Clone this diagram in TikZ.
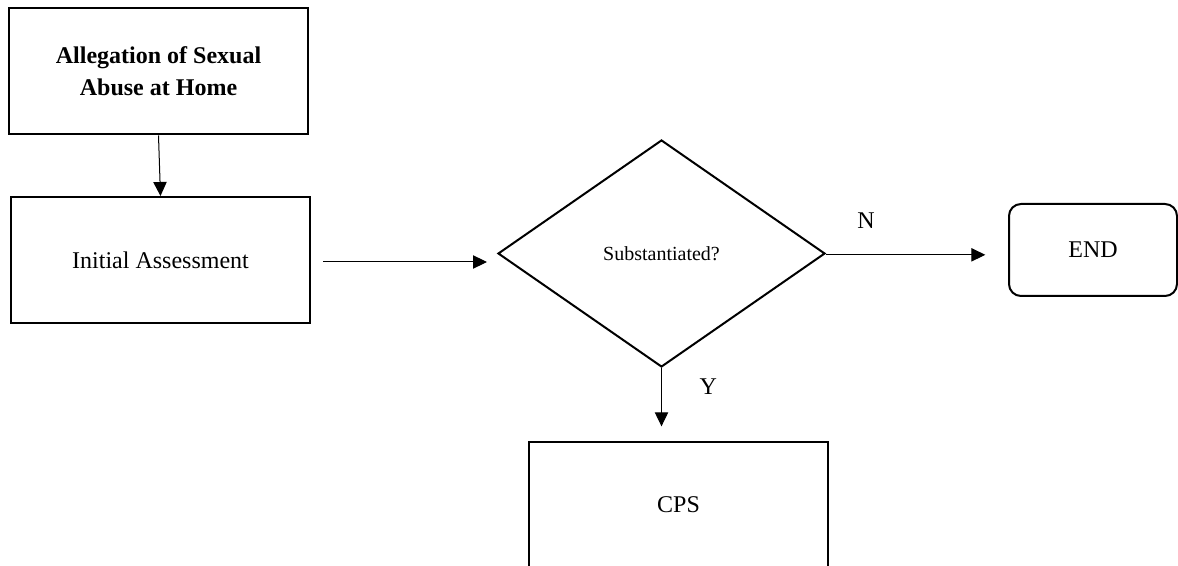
\documentclass[tikz,border=0pt]{standalone}
\usepackage{fontspec}
\setmainfont{Liberation Serif}
\usetikzlibrary{positioning,shapes.geometric,arrows.meta}

\begin{document}
\begin{tikzpicture}[x=0.75pt,y=-0.75pt,
		box/.style={draw, line width=1.5pt, minimum width=\BoxW pt, minimum height=\BoxH pt, align=center, font=\fontsize{18}{24}\selectfont},
		decision/.style={draw, diamond, line width=1.5pt, inner sep=0pt, minimum width=\DiaW pt, minimum height=\DiaH pt, font=\fontsize{15}{18}\selectfont},
		endbox/.style={draw, rounded corners=9pt, line width=1.5pt, minimum width=\EndW pt, minimum height=\EndH pt, font=\fontsize{18}{24}\selectfont},
		arr/.style={-{Triangle[length=10.5pt,width=10pt]}, line width=0.75pt},
		lbl/.style={font=\fontsize{18}{24}\selectfont}]
					\pgfmathsetmacro{\BoxW}{299*0.75}
					\pgfmathsetmacro{\BoxH}{126*0.75}
					\pgfmathsetmacro{\DiaW}{327*0.75}
					\pgfmathsetmacro{\DiaH}{227*0.75}
					\pgfmathsetmacro{\EndW}{168*0.75}
					\pgfmathsetmacro{\EndH}{92*0.75}
					\useasboundingbox (0,0) rectangle (1178,566);
					% LEFT COLUMN
					\node[box, font=\fontsize{18}{24}\selectfont\bfseries] (alleg) at (158.5,71.5) {Allegation of Sexual\\Abuse at Home};
					\node[box] (init) at (160.5,260) {Initial Assessment};
					% MIDDLE
					\node[decision] (subst) at (661.5,253.5) {Substantiated?};
					\node[box] (cps) at (678.5,505) {CPS};
					% RIGHT
					\node[endbox] (fin) at (1093,250) {END};
					% ARROWS
					\draw[arr] (alleg.south) -- (init.north);
					\draw[arr, shorten <=9pt, shorten >=7.5pt] ([yshift=-1.5pt]init.east) -- ([yshift=-1.5pt]init.east -| subst.west);
					\draw[arr, shorten >=17pt] ([yshift=-1pt]subst.east) -- ([yshift=-1pt]subst.east -| fin.west) node[lbl, pos=0.22, yshift=26pt] {N};
					\draw[arr, shorten >=11pt] (subst.south) -- (subst.south |- cps.north) node[lbl, pos=0.25, xshift=35pt] {Y};
				\end{tikzpicture}
\end{document}
